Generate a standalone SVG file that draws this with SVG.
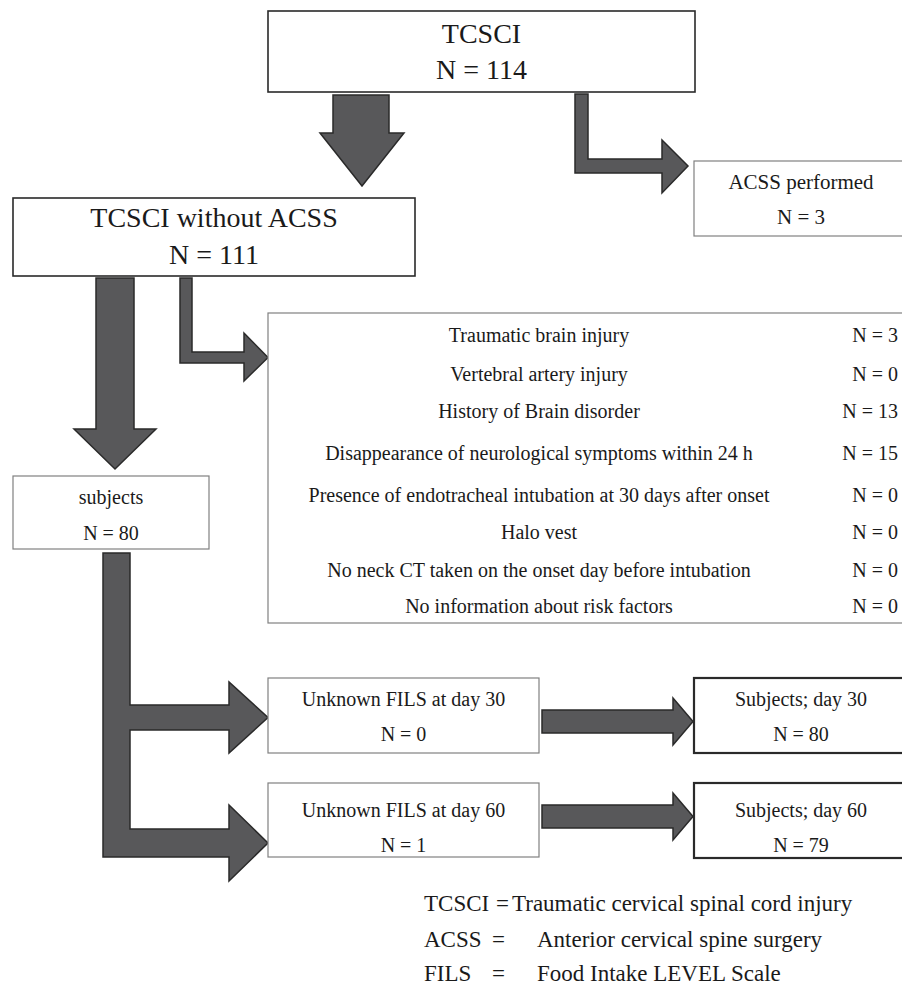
<svg xmlns="http://www.w3.org/2000/svg" width="902" height="987" viewBox="0 0 902 987">
<style>
text{font-family:"Liberation Serif","Times New Roman",serif;fill:#1a1a1a}
.c{text-anchor:middle}
.e{text-anchor:end}
.bd{fill:#fff;stroke:#2a2a2a;stroke-width:1.6}
.bl{fill:#fff;stroke:#808080;stroke-width:1.2}
.bt{fill:#fff;stroke:#2a2a2a;stroke-width:2.2}
.ar{fill:#58585a;stroke:#2a2a2a;stroke-width:1.5;stroke-linejoin:miter}
.f27{font-size:28px}.f21{font-size:21px}.f20{font-size:20px}.f23{font-size:23px}
</style>
<rect width="902" height="987" fill="#fff"/>
<g id="connectors">
<path class="ar" d="M333,95 L389,95 L389,133 L404,133 L362,186 L320,133 L333,133 Z"/>
<path class="ar" d="M575,94 L588,94 L588,159 L662,159 L662,140 L688,166 L662,193 L662,173 L575,173 Z"/>
<path class="ar" d="M96,278 L134,278 L134,429 L156,429 L115,469 L74,429 L96,429 Z"/>
<path class="ar" d="M180,278 L192,278 L192,352 L244,352 L244,333 L268,357.5 L244,381 L244,363 L180,363 Z"/>
<path class="ar" d="M103,553 L130,553 L130,705 L229,705 L229,682 L268,717.5 L229,753 L229,730 L130,730 L130,829 L229,829 L229,805 L268,843 L229,881 L229,857 L103,857 Z"/>
<path class="ar" d="M542,710 L673,710 L673,698 L693,721.5 L673,745 L673,733 L542,733 Z"/>
<path class="ar" d="M542,805 L673,805 L673,793 L693,816.5 L673,840 L673,828 L542,828 Z"/>
</g>
<g id="tcsci">
<rect class="bd" x="268" y="11" width="427" height="81"/>
<text class="c f27" x="481.5" y="43">TCSCI</text>
<text class="c f27" x="481.5" y="79">N = 114</text>
</g>
<g id="acss-performed">
<rect class="bl" x="694" y="161" width="220" height="75"/>
<text class="c f21" x="801" y="189">ACSS performed</text>
<text class="c f21" x="801" y="224">N = 3</text>
</g>
<g id="tcsci-without-acss">
<rect class="bd" x="13" y="198" width="402" height="78"/>
<text class="c f27" x="214" y="227">TCSCI without ACSS</text>
<text class="c f27" x="214" y="264">N = 111</text>
</g>
<g id="exclusions">
<rect class="bl" x="268" y="313" width="646" height="310"/>
<text class="c f20" x="539" y="342">Traumatic brain injury</text>
<text class="e f20" x="898" y="342">N = 3</text>
<text class="c f20" x="539" y="381">Vertebral artery injury</text>
<text class="e f20" x="898" y="381">N = 0</text>
<text class="c f20" x="539" y="418">History of Brain disorder</text>
<text class="e f20" x="898" y="418">N = 13</text>
<text class="c f20" x="539" y="460">Disappearance of neurological symptoms within 24 h</text>
<text class="e f20" x="898" y="460">N = 15</text>
<text class="c f20" x="539" y="502">Presence of endotracheal intubation at 30 days after onset</text>
<text class="e f20" x="898" y="502">N = 0</text>
<text class="c f20" x="539" y="539">Halo vest</text>
<text class="e f20" x="898" y="539">N = 0</text>
<text class="c f20" x="539" y="577">No neck CT taken on the onset day before intubation</text>
<text class="e f20" x="898" y="577">N = 0</text>
<text class="c f20" x="539" y="613">No information about risk factors</text>
<text class="e f20" x="898" y="613">N = 0</text>
</g>
<g id="subjects">
<rect class="bl" x="13" y="476" width="196" height="73"/>
<text class="c f20" x="111" y="504">subjects</text>
<text class="c f20" x="111" y="540">N = 80</text>
</g>
<g id="unknown-day30">
<rect class="bl" x="268" y="678" width="271" height="75"/>
<text class="c f20" x="403.5" y="706">Unknown FILS at day 30</text>
<text class="c f20" x="403.5" y="741">N = 0</text>
</g>
<g id="unknown-day60">
<rect class="bl" x="268" y="783" width="271" height="74"/>
<text class="c f20" x="403.5" y="817">Unknown FILS at day 60</text>
<text class="c f20" x="403.5" y="852">N = 1</text>
</g>
<g id="subjects-day30">
<rect class="bt" x="694" y="678" width="220" height="75"/>
<text class="c f20" x="801" y="706">Subjects; day 30</text>
<text class="c f20" x="801" y="741">N = 80</text>
</g>
<g id="subjects-day60">
<rect class="bt" x="694" y="783" width="220" height="75"/>
<text class="c f20" x="801" y="817">Subjects; day 60</text>
<text class="c f20" x="801" y="852">N = 79</text>
</g>
<g id="legend">
<text class="f23" y="911"><tspan x="424">TCSCI</tspan><tspan x="496">=</tspan><tspan x="512">Traumatic cervical spinal cord injury</tspan></text>
<text class="f23" y="947"><tspan x="424">ACSS</tspan><tspan x="492">=</tspan><tspan x="537">Anterior cervical spine surgery</tspan></text>
<text class="f23" y="981"><tspan x="424">FILS</tspan><tspan x="492">=</tspan><tspan x="537">Food Intake LEVEL Scale</tspan></text>
</g>
</svg>
